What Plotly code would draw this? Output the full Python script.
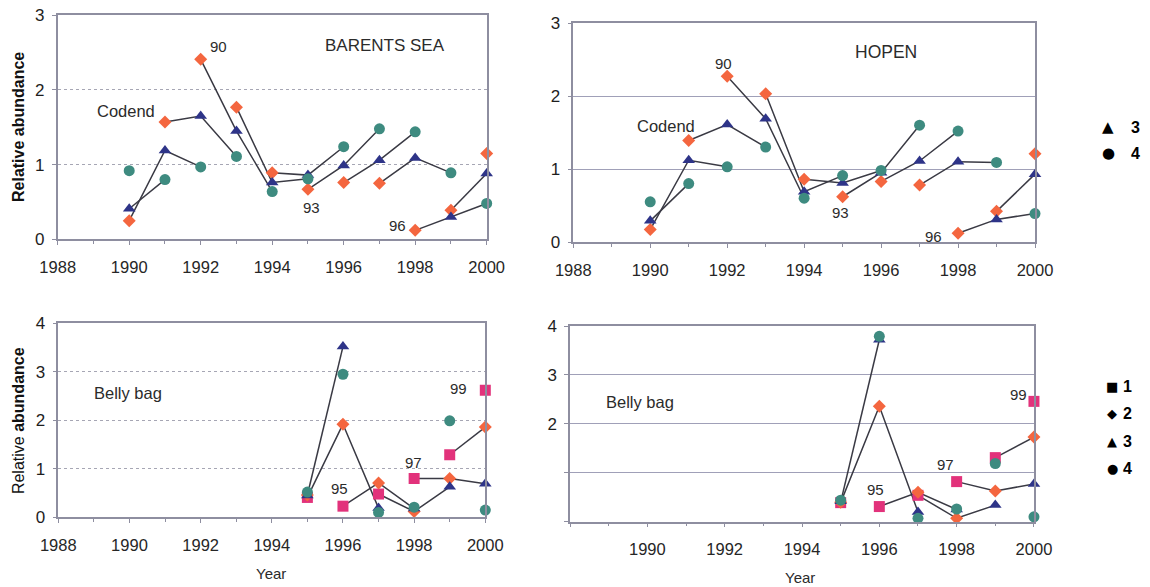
import plotly.graph_objects as go

# ---- data: relative abundance by year and age group ----
years_codend = [1990, 1991, 1992, 1993, 1994, 1995, 1996, 1997, 1998, 1999, 2000]
years_belly = [1995, 1996, 1997, 1998, 1999, 2000]

# Barents Sea, codend (ages 2-4)
bs_cod_age2 = [0.25, 1.57, 2.41, 1.77, 0.89, 0.67, 0.76, 0.75, 0.12, 0.39, 1.15]
bs_cod_age3 = [0.41, 1.19, 1.65, 1.45, 0.76, 0.86, 0.99, 1.06, 1.09, 0.30, 0.88]
bs_cod_age4 = [0.92, 0.80, 0.97, 1.11, 0.64, 0.81, 1.24, 1.48, 1.44, 0.89, 0.48]

# Hopen, codend (ages 2-4)
ho_cod_age2 = [0.17, 1.39, 2.27, 2.03, 0.86, 0.62, 0.83, 0.78, 0.12, 0.42, 1.21]
ho_cod_age3 = [0.29, 1.12, 1.61, 1.69, 0.69, 0.81, 0.95, 1.11, 1.10, 0.31, 0.93]
ho_cod_age4 = [0.55, 0.80, 1.03, 1.30, 0.60, 0.91, 0.98, 1.60, 1.52, 1.09, 0.39]

# Barents Sea, belly bag (ages 1-4)
bs_bel_age1 = [0.41, 0.23, 0.48, 0.80, 1.29, 2.62]
bs_bel_age2 = [0.46, 1.92, 0.71, 0.12, 0.80, 1.86]
bs_bel_age3 = [0.45, 3.52, 0.19, 0.18, 0.63, 0.69]
bs_bel_age4 = [0.52, 2.95, 0.10, 0.21, 1.99, 0.15]

# Hopen, belly bag (ages 1-4)
ho_bel_age1 = [0.39, 0.31, 0.54, 0.82, 1.31, 2.46]
ho_bel_age2 = [0.40, 2.36, 0.60, 0.07, 0.63, 1.73]
ho_bel_age3 = [0.42, 3.72, 0.20, 0.25, 0.34, 0.77]
ho_bel_age4 = [0.44, 3.79, 0.07, 0.26, 1.19, 0.10]

# year-class labels: (year class, year, value)
bs_cod_labels = [("90", 1992.5, 2.58), ("93", 1995.1, 0.42), ("96", 1997.5, 0.19)]
ho_cod_labels = [("90", 1991.9, 2.44), ("93", 1994.95, 0.40), ("96", 1997.35, 0.07)]
bs_bel_labels = [("95", 1995.9, 0.60), ("97", 1997.97, 1.14), ("99", 1999.25, 2.65)]
ho_bel_labels = [("95", 1995.9, 0.65), ("97", 1997.7, 1.16), ("99", 1999.6, 2.60)]

x_ticks = [1988, 1990, 1992, 1994, 1996, 1998, 2000]

# ---- styling ----
C_AGE1 = "#E2327B"
C_AGE2 = "#F4663F"
C_AGE3 = "#2E3488"
C_AGE4 = "#3E8B80"
LINE_C = "#3a3a44"
FRAME_C = "#8e8ea0"
FONT = "Liberation Sans, Arial, sans-serif"

MARKERS = {
    1: dict(symbol="square", size=11, color=C_AGE1),
    2: dict(symbol="diamond", size=10, color=C_AGE2),
    3: dict(symbol="triangle-up", size=11, color=C_AGE3),
    4: dict(symbol="circle", size=11, color=C_AGE4),
}

fig = go.Figure()


def cohort_lines(years, series, ages, xa, ya):
    """Connect the same year class through successive ages."""
    table = {age: dict(zip(years, vals)) for age, vals in zip(ages, series)}
    for yc in range(min(years) - max(ages), max(years) + 1):
        xs, ys = [], []
        for age in ages:
            yr = yc + age
            if yr in table[age]:
                xs.append(yr)
                ys.append(table[age][yr])
        if len(xs) >= 2:
            fig.add_trace(go.Scatter(
                x=xs, y=ys, mode="lines", xaxis=xa, yaxis=ya,
                line=dict(color=LINE_C, width=1.5), showlegend=False,
                hoverinfo="skip", cliponaxis=False))


def markers(years, series, ages, xa, ya):
    for age, vals in zip(ages, series):
        m = MARKERS[age]
        fig.add_trace(go.Scatter(
            x=years, y=vals, mode="markers", xaxis=xa, yaxis=ya,
            marker=dict(symbol=m["symbol"], size=m["size"], color=m["color"],
                        line=dict(width=0)),
            showlegend=False, cliponaxis=False, name=f"Age {age}"))


# Codend panels: year class c is age 2 in c+2, age 3 in c+3, age 4 in c+4
cohort_lines(years_codend, [bs_cod_age2, bs_cod_age3, bs_cod_age4], [2, 3, 4], "x", "y")
markers(years_codend, [bs_cod_age2, bs_cod_age3, bs_cod_age4], [2, 3, 4], "x", "y")
cohort_lines(years_codend, [ho_cod_age2, ho_cod_age3, ho_cod_age4], [2, 3, 4], "x2", "y2")
markers(years_codend, [ho_cod_age2, ho_cod_age3, ho_cod_age4], [2, 3, 4], "x2", "y2")

# Belly bag panels: year classes followed from age 1 to age 3
cohort_lines(years_belly, [bs_bel_age1, bs_bel_age2, bs_bel_age3], [1, 2, 3], "x3", "y3")
markers(years_belly, [bs_bel_age1, bs_bel_age2, bs_bel_age3, bs_bel_age4], [1, 2, 3, 4], "x3", "y3")
cohort_lines(years_belly, [ho_bel_age1, ho_bel_age2, ho_bel_age3], [1, 2, 3], "x4", "y4")
markers(years_belly, [ho_bel_age1, ho_bel_age2, ho_bel_age3, ho_bel_age4], [1, 2, 3, 4], "x4", "y4")


def xaxis(domain, anchor, ticktext):
    return dict(
        domain=domain, anchor=anchor, range=[1988, 2000],
        tickvals=x_ticks, ticktext=ticktext,
        ticks="outside", ticklen=4, tickcolor=FRAME_C,
        minor=dict(dtick=1, tick0=1988, ticks="outside", ticklen=3, tickcolor=FRAME_C),
        ticklabelstandoff=8, automargin=False,
        showgrid=False, zeroline=False,
        showline=True, linecolor=FRAME_C, linewidth=1.5, mirror=True,
        tickfont=dict(family=FONT, size=16.5, color="#262626"),
        fixedrange=True)


def yaxis(domain, anchor, rng, tickvals, ticktext, griddash, gridcolor):
    return dict(
        domain=domain, anchor=anchor, range=rng,
        tickvals=tickvals, ticktext=ticktext,
        ticks="outside", ticklen=4, tickcolor=FRAME_C,
        ticklabelstandoff=4, automargin=False,
        showgrid=True, gridcolor=gridcolor, griddash=griddash, gridwidth=1,
        zeroline=False,
        showline=True, linecolor=FRAME_C, linewidth=1.5, mirror=True,
        tickfont=dict(family=FONT, size=17, color="#1e1e1e"),
        fixedrange=True)


lbl = [str(v) for v in x_ticks]
fig.update_layout(
    width=1150, height=587, autosize=False,
    margin=dict(l=0, r=0, t=0, b=0, pad=0, autoexpand=False),
    paper_bgcolor="white", plot_bgcolor="white",
    font=dict(family=FONT, color="#2b2b2b"),
    xaxis=xaxis([0.0502, 0.4232], "y", lbl),
    yaxis=yaxis([0.5923, 0.9739], "x", [0, 3], [0, 1, 2, 3], ["0", "1", "2", "3"], "dot", "#a6a6b4"),
    xaxis2=xaxis([0.4985, 0.9000], "y2", lbl),
    yaxis2=yaxis([0.5877, 0.9608], "x2", [0, 3], [0, 1, 2, 3], ["0", "1", "2", "3"], "solid", "#a0a0b8"),
    xaxis3=xaxis([0.0507, 0.4220], "y3", lbl),
    yaxis3=yaxis([0.1187, 0.4492], "x3", [0, 4], [0, 1, 2, 3, 4], ["0", "1", "2", "3", "4"], "dot", "#a6a6b4"),
    xaxis4=xaxis([0.4957, 0.8991], "y4", [""] + lbl[1:]),
    yaxis4=yaxis([0.1112, 0.4446], "x4", [0, 4], [0, 1, 2, 3, 4], ["", "", "2", "3", "4"], "solid", "#a0a0b8"),
)

ann = []


def centered(**kw):
    kw.update(showarrow=False, xanchor="center", yanchor="middle")
    ann.append(kw)


def panel_text(text, x, y, xa, ya, size):
    centered(text=text, x=x, y=y, xref=xa, yref=ya,
             font=dict(family=FONT, size=size, color="#2b2b2b"))


panel_text("BARENTS SEA", 1997.16, 2.60, "x", "y", 17)
panel_text("Codend", 1989.9, 1.72, "x", "y", 16.5)
panel_text("HOPEN", 1996.12, 2.60, "x2", "y2", 17.5)
panel_text("Codend", 1990.41, 1.59, "x2", "y2", 16.5)
panel_text("Belly bag", 1989.96, 2.56, "x3", "y3", 16.5)
panel_text("Belly bag", 1989.81, 2.44, "x4", "y4", 16.5)

for labels, xa, ya in [(bs_cod_labels, "x", "y"), (ho_cod_labels, "x2", "y2"),
                       (bs_bel_labels, "x3", "y3"), (ho_bel_labels, "x4", "y4")]:
    for t, x, y in labels:
        panel_text(t, x, y, xa, ya, 15)


def px(xp, yp):
    return dict(x=xp / 1150, y=1 - yp / 587, xref="paper", yref="paper")


# axis titles
for text, yp in [("<b>Relative abundance</b>", 127.5), ("Relative <b>abundance</b>", 420.6)]:
    centered(text=text, textangle=-90, **px(18.5, yp),
             font=dict(family=FONT, size=16, color="#111111"))
for xp, yp in [(271, 573), (800, 577)]:
    centered(text="Year", **px(xp, yp), font=dict(family=FONT, size=15, color="#2b2b2b"))

# age keys
key_top = [("▲", "3", 127), ("●", "4", 153)]
key_bottom = [("■", "1", 386), ("◆", "2", 413), ("▲", "3", 441), ("●", "4", 468)]
for sym, num, yp in key_top:
    centered(text=sym, **px(1108, yp), font=dict(family="DejaVu Sans", size=15, color="black"))
    centered(text=f"<b>{num}</b>", **px(1135, yp), font=dict(family=FONT, size=16, color="black"))
for sym, num, yp in key_bottom:
    centered(text=sym, **px(1112, yp), font=dict(family="DejaVu Sans", size=13, color="black"))
    centered(text=f"<b>{num}</b>", **px(1127, yp), font=dict(family=FONT, size=16, color="black"))

fig.update_layout(annotations=ann)

fig.write_html("out.html")
